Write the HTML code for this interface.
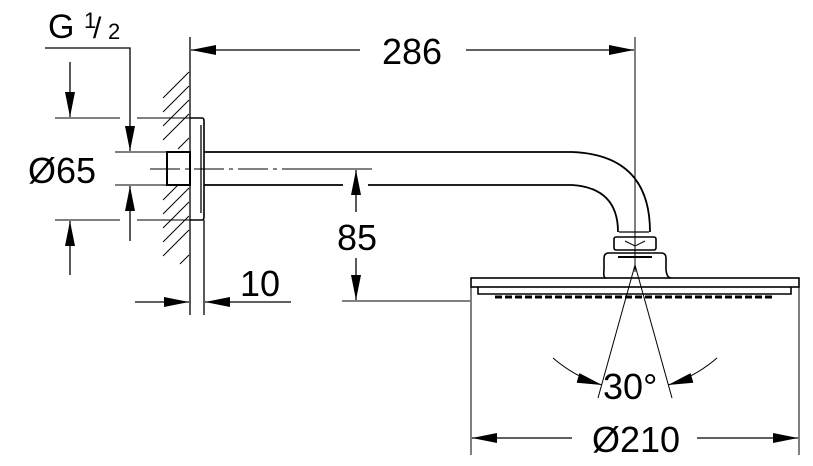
<!DOCTYPE html>
<html><head><style>body{margin:0;background:#fff}svg{display:block}text{font-family:"Liberation Sans",sans-serif;fill:#000}</style></head><body>
<svg width="813" height="466" viewBox="0 0 813 466" xmlns="http://www.w3.org/2000/svg">
<defs>
<marker id="a" viewBox="0 0 10 4" refX="10" refY="2" markerWidth="26" markerHeight="10" markerUnits="userSpaceOnUse" orient="auto"><path d="M0,0L10,2L0,4z"/></marker>
</defs>
<g stroke="#000" fill="none" stroke-width="1.3">
<line x1="190" y1="37" x2="190" y2="315"/>
<line x1="204" y1="220" x2="204" y2="315"/>
<g stroke-width="1">
<line x1="163" y1="98" x2="189" y2="72"/><line x1="163" y1="112" x2="189" y2="86"/><line x1="163" y1="126" x2="189" y2="100"/><line x1="163" y1="140" x2="189" y2="114"/><line x1="178" y1="149" x2="189" y2="138"/>
<line x1="163" y1="200" x2="178" y2="185"/><line x1="163" y1="214" x2="189" y2="188"/><line x1="163" y1="228" x2="189" y2="202"/><line x1="163" y1="242" x2="189" y2="216"/><line x1="163" y1="256" x2="189" y2="230"/><line x1="180" y1="264" x2="189" y2="255"/>
</g>
<path d="M190,118H202Q204,118 204,121V217Q204,220 202,220H190" stroke-width="1.6"/>
<line x1="201" y1="125" x2="201" y2="213"/>
<rect x="167" y="152" width="23" height="33" stroke-width="2"/>
<path d="M204,152H572Q650,155 650,232" stroke-width="1.8"/>
<path d="M204,185H343M368,185H572Q618,188 618,232" stroke-width="1.8"/>
<line x1="150" y1="169" x2="372" y2="169" stroke-width="1" stroke-dasharray="30,5,4,5"/>
<line x1="619" y1="232" x2="649" y2="232"/>
<rect x="614" y="237" width="42" height="13" rx="2" stroke-width="1.6"/>
<path d="M625,241L635,246L645,241" stroke-width="1"/>
<path d="M606,278Q603,278 604,270V258Q604,253 609,253H661Q666,253 666,258V270Q667,278 671,278" stroke-width="1.6"/>
<line x1="618" y1="257" x2="652" y2="257" stroke-width="2"/>
<rect x="471" y="278" width="328" height="9" stroke-width="1.6"/>
<path d="M478,287V294H791V287" stroke-width="1.6"/>
<line x1="495" y1="297" x2="775" y2="297" stroke-width="3" stroke-dasharray="7,3"/>
<line x1="635" y1="37" x2="635" y2="272" stroke-width="1"/>
<line x1="360" y1="50" x2="191" y2="50" marker-end="url(#a)"/>
<line x1="466" y1="50" x2="634" y2="50" marker-end="url(#a)"/>
<path d="M45,48H130V151" marker-end="url(#a)"/>
<line x1="55" y1="118" x2="120" y2="118" stroke-width="1"/><line x1="137" y1="118" x2="190" y2="118" stroke-width="1"/>
<line x1="55" y1="220" x2="120" y2="220" stroke-width="1"/><line x1="137" y1="220" x2="190" y2="220" stroke-width="1"/>
<line x1="115" y1="152" x2="167" y2="152" stroke-width="1"/><line x1="115" y1="185" x2="167" y2="185" stroke-width="1"/>
<line x1="70" y1="62" x2="70" y2="117" marker-end="url(#a)"/>
<line x1="70" y1="275" x2="70" y2="221" marker-end="url(#a)"/>
<line x1="130" y1="241" x2="130" y2="186" marker-end="url(#a)"/>
<line x1="300" y1="169" x2="372" y2="169" stroke-width="1"/>
<line x1="356" y1="212" x2="356" y2="170" marker-end="url(#a)"/>
<line x1="356" y1="258" x2="356" y2="300" marker-end="url(#a)"/>
<line x1="342" y1="301" x2="470" y2="301" stroke-width="1"/>
<line x1="135" y1="302" x2="189" y2="302" marker-end="url(#a)"/>
<line x1="291" y1="302" x2="205" y2="302" marker-end="url(#a)"/>
<line x1="471" y1="287" x2="471" y2="455" stroke-width="1"/>
<line x1="799" y1="287" x2="799" y2="455" stroke-width="1"/>
<line x1="572" y1="438" x2="472" y2="438" marker-end="url(#a)"/>
<line x1="697" y1="438" x2="798" y2="438" marker-end="url(#a)"/>
<line x1="635" y1="265" x2="598" y2="398" stroke-width="1"/>
<line x1="635" y1="265" x2="672" y2="398" stroke-width="1"/>
<path d="M553,358Q575,377 602,385" stroke-width="1" marker-end="url(#a)"/>
<path d="M717,358Q695,377 668,385" stroke-width="1" marker-end="url(#a)"/>
</g>
<g font-size="36">
<text x="48" y="38" font-size="34">G</text>
<text x="84" y="28" font-size="22">1</text>
<text x="93" y="38" font-size="30">/</text>
<text x="108" y="39" font-size="22">2</text>
<text x="28" y="183">Ø65</text>
<text x="412" y="64" text-anchor="middle">286</text>
<text x="357" y="250" text-anchor="middle">85</text>
<text x="260" y="296" text-anchor="middle">10</text>
<text x="603" y="399">30°</text>
<text x="636" y="452" text-anchor="middle">Ø210</text>
</g>
</svg>
</body></html>
